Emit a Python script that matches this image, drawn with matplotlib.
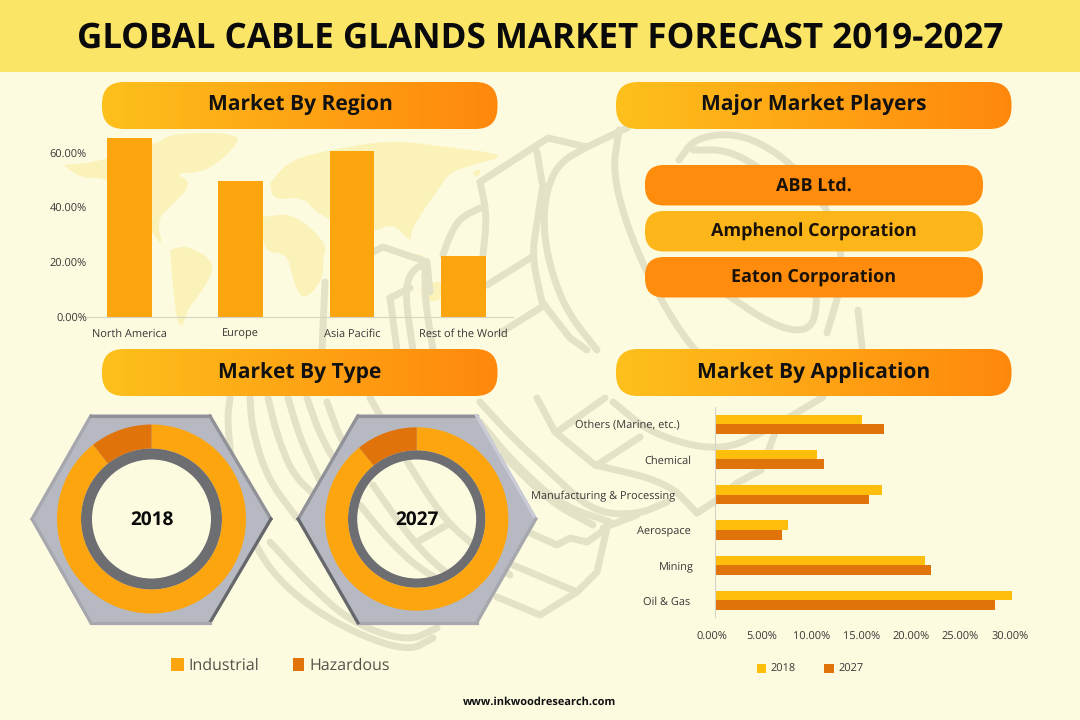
import numpy as np
import matplotlib
matplotlib.use("Agg")
import matplotlib.pyplot as plt
from matplotlib.patches import FancyBboxPatch, PathPatch, Polygon, Rectangle, Wedge
from matplotlib.path import Path
from matplotlib.transforms import ScaledTranslation

plt.rcParams['font.family'] = ['Open Sans', 'DejaVu Sans']
plt.rcParams['text.hinting'] = 'no_hinting'
plt.rcParams['text.hinting_factor'] = 1

# Market by region
regions = ['North America', 'Europe', 'Asia Pacific', 'Rest of the World']
region_values = [65.5, 49.8, 60.7, 22.5]
region_ticks = [0, 20, 40, 60]

# Market by type, share in percent
type_names = ['Industrial', 'Hazardous']
type_2018 = [89.4, 10.6]
type_2027 = [89.2, 10.8]

# Market by application, bottom row first
applications = ['Oil & Gas', 'Mining', 'Aerospace', 'Manufacturing & Processing', 'Chemical', 'Others (Marine, etc.)']
app_2018 = [29.85, 21.1, 7.3, 16.75, 10.2, 14.8]
app_2027 = [28.15, 21.7, 6.7, 15.5, 10.95, 17.0]
app_ticks = [0, 5, 10, 15, 20, 25, 30]

players = ['ABB Ltd.', 'Amphenol Corporation', 'Eaton Corporation']

W, H = 1080, 720
BG = '#FDFBDF'
HEADER = '#FBE567'
AMBER = '#FDA50F'
BURNT = '#E0730A'
GOLD = '#FFBE0B'
WATERMARK = '#E3E1C6'
MAP = '#FBF2BA'
INK = '#363636'

fig = plt.figure(figsize=(W / 100, H / 100), dpi=100, facecolor=BG)


def px_axes(left, top, right, bottom):
    ax = fig.add_axes([left / W, 1 - bottom / H, (right - left) / W, (bottom - top) / H])
    ax.patch.set_alpha(0)
    return ax


def smooth(points, rounds=3):
    # Chaikin corner cutting, keeps the end points
    pts = np.array(points, dtype=float)
    for _ in range(rounds):
        q = 0.75 * pts[:-1] + 0.25 * pts[1:]
        r = 0.25 * pts[:-1] + 0.75 * pts[1:]
        mid = np.empty((2 * len(q), 2))
        mid[0::2] = q
        mid[1::2] = r
        pts = np.vstack([pts[0], mid, pts[-1]])
    return pts


bg = fig.add_axes([0, 0, 1, 1], zorder=0)
bg.axis('off')

# Pale world map behind the region chart
continents = [
    [(64, 165), (97, 162), (130, 150), (157, 143), (173, 133), (243, 133), (230, 153), (203, 173), (173, 173),
     (193, 183), (170, 207), (157, 220), (163, 247), (152, 232), (135, 205), (110, 178), (80, 178)],
    [(170, 250), (187, 245), (217, 263), (203, 290), (187, 310), (183, 327), (177, 323), (173, 287)],
    [(263, 217), (293, 213), (327, 243), (323, 260), (323, 280), (303, 302), (293, 280), (287, 253), (263, 252)],
    [(270, 183), (290, 160), (330, 150), (390, 140), (440, 146), (510, 155), (473, 165), (450, 172), (438, 190),
     (427, 205), (410, 232), (412, 243), (393, 223), (370, 233), (350, 230), (317, 213), (303, 197), (273, 200)],
    [(420, 290), (442, 278), (443, 300), (425, 302)],
    [(473, 172), (482, 168), (477, 179)],
    [(403, 256), (425, 254), (420, 262)],
]
for shape in continents:
    outline = smooth(shape + shape[:1], rounds=2)
    bg.add_patch(Polygon(outline, closed=True, fc=MAP, ec='none', zorder=1))

# Cable gland line art, traced by hand
curves = [
    [(619, 130), (612, 177), (638, 257), (682, 337), (720, 375)],
    [(858, 310), (862, 347)],
    [(679, 160), (696, 137), (741, 133), (789, 160), (830, 210), (845, 270), (836, 303), (827, 333)],
    [(720, 290), (775, 327), (810, 332), (818, 303), (812, 270)],
    [(693, 150), (730, 150), (770, 175)],
    [(587, 147), (560, 162), (547, 188), (543, 225), (550, 268), (567, 312), (597, 350)],
    [(543, 185), (537, 222), (532, 257), (542, 302)],
    [(537, 152), (542, 182)],
    [(480, 182), (487, 215), (483, 255)],
    [(480, 208), (460, 218), (450, 235), (443, 255)],
    [(427, 262), (410, 272), (405, 295), (413, 350)],
    [(425, 268), (425, 300), (433, 350)],
    [(390, 298), (397, 350)],
    [(230, 398), (227, 422), (235, 490), (257, 552), (290, 592), (343, 628), (407, 652), (433, 638)],
    [(270, 542), (307, 582), (350, 622), (407, 642), (437, 628)],
    [(250, 398), (252, 428), (267, 478), (297, 518)],
    [(268, 398), (277, 435), (293, 475), (317, 497)],
    [(288, 398), (300, 438), (317, 475), (325, 490)],
    [(307, 398), (320, 435), (340, 470)],
    [(327, 402), (340, 438), (355, 462)],
    [(360, 505), (390, 542), (423, 572), (470, 595)],
    [(373, 485), (410, 538), (443, 572), (482, 593)],
    [(370, 398), (407, 462), (443, 518), (473, 545), (510, 575)],
    [(480, 402), (513, 438), (553, 475), (593, 512), (637, 515), (667, 502)],
    [(480, 422), (513, 462), (560, 505), (610, 522)],
    [(503, 455), (550, 502), (593, 525)],
    [(613, 402), (653, 435), (720, 452), (768, 430), (823, 397)],
    [(595, 465), (667, 482), (697, 513)],
]
corners = [
    [(627, 128), (587, 147), (548, 138), (480, 182)],
    [(532, 257), (487, 285)],
    [(545, 305), (500, 333)],
    [(542, 302), (570, 338), (587, 350)],
    [(373, 252), (383, 247), (427, 262), (430, 292)],
    [(410, 288), (390, 298)],
    [(325, 282), (322, 350)],
    [(537, 398), (555, 432), (595, 465)],
    [(605, 398), (557, 432)],
    [(640, 437), (597, 465)],
    [(697, 513), (720, 498)],
    [(775, 433), (761, 470), (737, 483), (720, 498)],
    [(530, 533), (557, 545), (570, 538), (587, 542), (607, 528), (597, 572), (577, 592), (540, 615), (497, 597)],
    [(513, 565), (577, 592)],
    [(603, 528), (637, 515)],
    [(417, 542), (447, 525)],
]
for stroke in curves:
    xy = smooth(stroke)
    bg.plot(xy[:, 0], xy[:, 1], color=WATERMARK, lw=5, solid_capstyle='round', zorder=2)
for stroke in corners:
    xy = np.array(stroke)
    bg.plot(xy[:, 0], xy[:, 1], color=WATERMARK, lw=5, solid_capstyle='round', solid_joinstyle='round', zorder=2)

# Header band
bg.add_patch(Rectangle((0, 0), W, 72, fc=HEADER, ec='none', zorder=3))
bg.text(540.5, 38.5, 'GLOBAL CABLE GLANDS MARKET FORECAST 2019-2027', ha='center', va='center',
        fontsize=25.2, fontweight='bold', color='#0A0A0A', zorder=5)

# Section pills with a left to right gradient
gradient = np.linspace(0, 1, 256)[None, :, None]
gradient = (1 - gradient) * np.array([253, 192, 28]) + gradient * np.array([255, 136, 12])
sections = [('Market By Region', 102, 82), ('Major Market Players', 616, 82),
            ('Market By Type', 102, 349), ('Market By Application', 616, 349)]
for label, x, y in sections:
    box = FancyBboxPatch((x, y), 395.5, 47, boxstyle='round,pad=0,rounding_size=22', fc='none', ec='none', zorder=4)
    bg.add_patch(box)
    im = bg.imshow(gradient / 255, extent=(x, x + 395.5, y + 47, y), aspect='auto', zorder=4)
    im.set_clip_path(box)
    bg.text(x + 198, y + 24, label, ha='center', va='center', fontsize=15.4, fontweight='bold',
            color='#111111', zorder=5)

pill_colors = ['#FF8C0C', '#FDB61A', '#FF8C0C']
for i, name in enumerate(players):
    y = 165 + 46 * i
    bg.add_patch(FancyBboxPatch((645, y), 338, 40.5, boxstyle='round,pad=0,rounding_size=19',
                                fc=pill_colors[i], ec='none', zorder=4))
    bg.text(814, y + 21, name, ha='center', va='center', fontsize=13, fontweight='bold',
            color='#1A1208', zorder=5)

# Hexagon nuts, open in the middle so the line art shows through
nuts = [
    (30.3, 90, 210.7, 272.7, 151.5, 94.5, 70.5),
    (296.4, 357, 477.6, 537.5, 416.7, 91.7, 68.7),
]
for n, (xl, xa, xb, xr, cx, r_out, r_grey) in enumerate(nuts):
    cy = 519
    outline = [(xl, cy), (xa, 414.3), (xb, 414.3), (xr, cy), (xb, 624.3), (xa, 624.3)]
    t = np.linspace(2 * np.pi, 0, 120)
    hole = np.column_stack([cx + 60 * np.cos(t), cy + 60 * np.sin(t)])
    nut = Path.make_compound_path(Path(outline + outline[:1], closed=True), Path(hole, closed=True))
    bg.add_patch(PathPatch(nut, fc='#B6B9C1', ec='none', zorder=3))
    soft = '#A6A8AE'
    mid = '#909297'
    dark = '#66676B'
    light = '#C9CCD6'
    edge_colors = [soft, mid, mid if n == 0 else light, dark if n == 0 else soft, soft, dark if n == 1 else soft]
    if n == 1:
        edge_colors[0] = mid
    # Rim runs just inside the outline so the edges meet at the corners
    rim = [(cx + (px - cx) * 0.985, cy + (py - cy) * 0.985) for px, py in outline]
    for k in range(6):
        a, b = rim[k], rim[(k + 1) % 6]
        bg.plot([a[0], b[0]], [a[1], b[1]], color=edge_colors[k], lw=2.3, solid_capstyle='projecting', zorder=3.5)
    bg.add_patch(Wedge((cx, cy), r_grey, 0, 360, width=r_grey - 59.5, fc='#6D6E71', ec='none', zorder=3.6))

# Type legend
bg.add_patch(Rectangle((171, 658), 13, 13, fc=AMBER, ec='none', zorder=4))
bg.text(188.5, 665.5, type_names[0], ha='left', va='center', fontsize=11.2, color='#55524A', zorder=5)
bg.add_patch(Rectangle((292.5, 658), 11.5, 13, fc=BURNT, ec='none', zorder=4))
bg.text(309, 665.5, type_names[1], ha='left', va='center', fontsize=11.2, color='#55524A', zorder=5)

bg.text(540, 702, 'www.inkwoodresearch.com', ha='center', va='center', fontsize=8, fontweight='bold',
        color='#111111', zorder=5)

bg.set_xlim(0, W)
bg.set_ylim(H, 0)

# Region bars, 60% sits 164 px above the baseline
ax1 = px_axes(87, 126, 513, 317.3)
ax1.set_zorder(2)
ax1.bar(range(len(regions)), region_values, width=0.4, color=AMBER)
ax1.set_xlim(-0.38, 3.447)
ax1.set_ylim(0, 70)
ax1.set_yticks(region_ticks, [f'{v:.2f}%' for v in region_ticks])
ax1.set_xticks(range(len(regions)), regions)
ax1.tick_params(length=0, labelsize=8.1, labelcolor=INK, pad=8)
ax1.tick_params(axis='y', pad=0)
for side in ['top', 'right', 'left']:
    ax1.spines[side].set_visible(False)
ax1.spines['bottom'].set_color('#D5D3C4')

# Type donuts
for (xl, xa, xb, xr, cx, r_out, r_grey), values, year in zip(nuts, [type_2018, type_2027], ['2018', '2027']):
    ax = px_axes(cx - r_out, 519 - r_out, cx + r_out, 519 + r_out)
    ax.set_zorder(2)
    ax.pie(values, colors=[AMBER, BURNT], startangle=90, counterclock=False, radius=1,
           wedgeprops={'width': (r_out - r_grey) / r_out, 'linewidth': 0})
    ax.set_xlim(-1, 1)
    ax.set_ylim(-1, 1)
    ax.text(0, -0.01, year, ha='center', va='center', fontsize=14, fontweight='bold', color='#0A0A0A')

# Application bars
row = np.arange(len(applications))
ax2 = px_axes(715.3, 407, 1018, 617)
ax2.set_zorder(2)
ax2.barh(row + 0.137, app_2018, height=0.275, color=GOLD, label='2018')
ax2.barh(row - 0.137, app_2027, height=0.275, color=BURNT, label='2027')
ax2.set_xlim(0, 30.5)
ax2.set_ylim(-0.47, 5.49)
ax2.set_xticks(app_ticks, [f'{v:.2f}%' for v in app_ticks])
ax2.set_yticks(row, applications)
ax2.tick_params(length=0, labelsize=7.9, labelcolor=INK)
ax2.tick_params(axis='x', pad=10.5)
for side in ['top', 'right', 'bottom']:
    ax2.spines[side].set_visible(False)
ax2.spines['left'].set_color('#D5D3C4')
for lab in ax2.get_xticklabels():
    lab.set_transform(lab.get_transform() + ScaledTranslation(-3 / 100, 0, fig.dpi_scale_trans))
# The row labels do not share a right edge in the original
right_edges = [691, 694, 691, 676, 692, 680.5]
for lab, edge in zip(ax2.get_yticklabels(), right_edges):
    lab.set_transform(lab.get_transform() + ScaledTranslation((edge - 711) / 100, 0, fig.dpi_scale_trans))
ax2.legend(loc='upper left', bbox_to_anchor=(757 / W, 1 - 664 / H), bbox_transform=fig.transFigure, ncol=2,
           frameon=False, fontsize=7.9, handlelength=0.85, handleheight=0.9, handletextpad=0.4, columnspacing=2.6,
           borderpad=0, borderaxespad=0, labelcolor=INK)

fig.savefig('out.png', dpi=100, facecolor=BG)
